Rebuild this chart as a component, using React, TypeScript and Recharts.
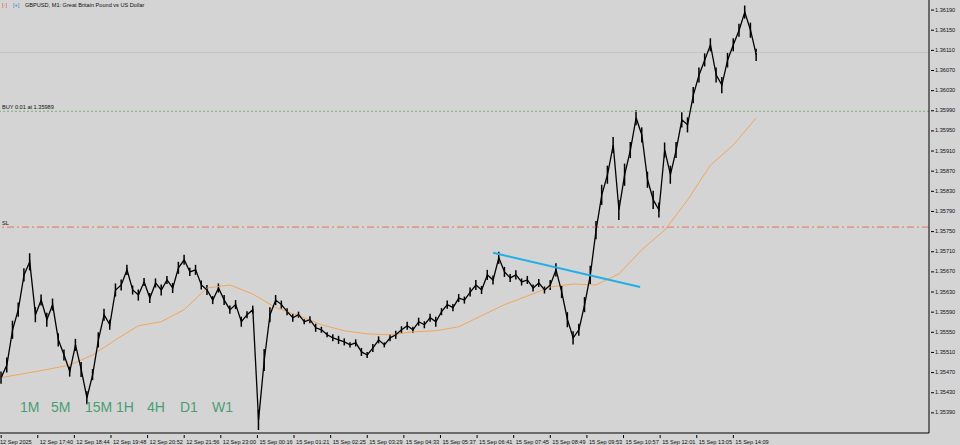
import React from 'react';
import { ComposedChart, Line, Bar, XAxis, YAxis, ReferenceLine } from 'recharts';

// M1 GBPUSD — one close sampled every 10 bars, MA every 40 bars
const timeLabels = [
  '12 Sep 2025', '12 Sep 17:40', '12 Sep 18:44', '12 Sep 19:48', '12 Sep 20:52', '12 Sep 21:56',
  '12 Sep 23:00', '15 Sep 00:16', '15 Sep 01:21', '15 Sep 02:25', '15 Sep 03:29', '15 Sep 04:33',
  '15 Sep 05:37', '15 Sep 06:41', '15 Sep 07:45', '15 Sep 08:49', '15 Sep 09:53', '15 Sep 10:57',
  '15 Sep 12:01', '15 Sep 13:05', '15 Sep 14:09',
];

const priceTicks = [
  1.3539, 1.3543, 1.3547, 1.3551, 1.3555, 1.3559, 1.3563, 1.3567, 1.3571, 1.3575, 1.3579,
  1.3583, 1.3587, 1.3591, 1.3595, 1.3599, 1.3603, 1.3607, 1.3611, 1.3615, 1.3619,
];

const closes = [
  1.35460, 1.35485, 1.35555, 1.35595, 1.35664, 1.35690, 1.35585, 1.35614, 1.35575, 1.35605,
  1.35535, 1.35505, 1.35472, 1.35525, 1.35476, 1.35420, 1.35466, 1.35535, 1.35585, 1.35565,
  1.35634, 1.35644, 1.35674, 1.35634, 1.35624, 1.35650, 1.35618, 1.35648, 1.35634, 1.35654,
  1.35638, 1.35678, 1.35694, 1.35670, 1.35674, 1.35644, 1.35634, 1.35614, 1.35638, 1.35614,
  1.35595, 1.35605, 1.35571, 1.35585, 1.35595, 1.35376, 1.35495, 1.35585, 1.35614, 1.35605,
  1.35591, 1.35579, 1.35585, 1.35571, 1.35575, 1.35559, 1.35555, 1.35545, 1.35539, 1.35535,
  1.35531, 1.35525, 1.35529, 1.35511, 1.35505, 1.35519, 1.35535, 1.35525, 1.35539, 1.35545,
  1.35555, 1.35563, 1.35555, 1.35571, 1.35565, 1.35579, 1.35571, 1.35591, 1.35605, 1.35599,
  1.35618, 1.35614, 1.35630, 1.35644, 1.35634, 1.35664, 1.35654, 1.35698, 1.35670, 1.35658,
  1.35664, 1.35650, 1.35654, 1.35638, 1.35648, 1.35634, 1.35644, 1.35674, 1.35630, 1.35575,
  1.35539, 1.35555, 1.35605, 1.35664, 1.35753, 1.35823, 1.35863, 1.35922, 1.35793, 1.35863,
  1.35912, 1.35976, 1.35942, 1.35853, 1.35813, 1.35793, 1.35912, 1.35863, 1.35912, 1.35972,
  1.35962, 1.36021, 1.36061, 1.36091, 1.36121, 1.36061, 1.36041, 1.36091, 1.36121, 1.36150,
  1.36186, 1.36150, 1.36101,
];

// high-low span of the bars around each sample
const spans = [
  0.00024, 0.00030, 0.00036, 0.00028, 0.00026, 0.00034, 0.00030, 0.00022, 0.00028, 0.00024,
  0.00026, 0.00022, 0.00020, 0.00024, 0.00030, 0.00026, 0.00022, 0.00030, 0.00024, 0.00020,
  0.00026, 0.00022, 0.00020, 0.00018, 0.00022, 0.00016, 0.00020, 0.00018, 0.00022, 0.00016,
  0.00020, 0.00024, 0.00020, 0.00016, 0.00020, 0.00018, 0.00020, 0.00016, 0.00018, 0.00020,
  0.00016, 0.00018, 0.00020, 0.00014, 0.00016, 0.00040, 0.00044, 0.00030, 0.00020, 0.00016,
  0.00014, 0.00016, 0.00012, 0.00010, 0.00014, 0.00016, 0.00012, 0.00010, 0.00014, 0.00016,
  0.00014, 0.00010, 0.00014, 0.00016, 0.00012, 0.00016, 0.00014, 0.00010, 0.00014, 0.00016,
  0.00014, 0.00016, 0.00012, 0.00016, 0.00014, 0.00016, 0.00020, 0.00014, 0.00016, 0.00014,
  0.00016, 0.00014, 0.00018, 0.00020, 0.00016, 0.00020, 0.00018, 0.00024, 0.00020, 0.00016,
  0.00018, 0.00014, 0.00016, 0.00014, 0.00016, 0.00014, 0.00020, 0.00026, 0.00024, 0.00030,
  0.00026, 0.00024, 0.00030, 0.00036, 0.00036, 0.00040, 0.00036, 0.00032, 0.00040, 0.00044,
  0.00032, 0.00030, 0.00030, 0.00032, 0.00036, 0.00030, 0.00030, 0.00036, 0.00032, 0.00030,
  0.00030, 0.00032, 0.00030, 0.00026, 0.00026, 0.00030, 0.00032, 0.00030, 0.00026, 0.00026,
  0.00026, 0.00030, 0.00024,
];

const maValues = [
  1.35460, 1.35468, 1.35476, 1.35485, 1.35505, 1.35535, 1.35563, 1.35571, 1.35595, 1.35638,
  1.35644, 1.35626, 1.35599, 1.35583, 1.35565, 1.35553, 1.35547, 1.35545, 1.35551, 1.35553,
  1.35561, 1.35583, 1.35605, 1.35622, 1.35640, 1.35646, 1.35644, 1.35666, 1.35714, 1.35753,
  1.35813, 1.35882, 1.35922, 1.35976,
];

const trendStart = { t: 860, price: 1.35708 };
const trendEnd = { t: 1117, price: 1.35640 };
const buyPrice = 1.35989;
const slPrice = 1.35759;
const bidPrice = 1.36106;
const timeframes = ['1M', '5M', '15M', '1H', '4H', 'D1', 'W1'];
const timeframeLeft = [20, 51, 85, 116, 147, 180, 212];

const BAR_STEP = 10;
const MA_STEP = 40;
const LABEL_STEP = 64;

const rows = closes.map((c, i) => {
  const t = i * BAR_STEP;
  return {
    t,
    close: c,
    range: [c - spans[i] / 2, c + spans[i] / 2],
    ma: t % MA_STEP === 0 ? maValues[t / MA_STEP] : undefined,
  };
});

const FONT = '"Liberation Sans", Arial, sans-serif';

const TimeTick = (props: any) => {
  const { x, y, payload } = props;
  const idx = Math.round(payload.value / LABEL_STEP);
  return (
    <g>
      <line x1={x} y1={y} x2={x} y2={y + 3} stroke="#000" strokeWidth={1} />
      <text x={idx === 0 ? 0 : x + 2} y={y + 7.5} fontSize={5.6} fontFamily={FONT} fill="#111" dominantBaseline="middle">
        {timeLabels[idx]}
      </text>
    </g>
  );
};

const PriceTick = (props: any) => {
  const { x, y, payload } = props;
  return (
    <g>
      <line x1={x} y1={y} x2={x + 3} y2={y} stroke="#000" strokeWidth={1} />
      <text x={x + 4} y={y} fontSize={5.6} fontFamily={FONT} fill="#111" dominantBaseline="middle">
        {payload.value.toFixed(5)}
      </text>
    </g>
  );
};

const lineLabel = (text: string) => (props: any) => {
  const { viewBox } = props;
  return (
    <text x={2} y={viewBox.y - 2.5} fontSize={5.6} fontFamily={FONT} fill="#111">
      {text}
    </text>
  );
};

export default function App() {
  return (
    <div style={{ position: 'absolute', left: 0, top: 0, width: 960, height: 445, background: '#d4d4d4', overflow: 'hidden' }}>
      <ComposedChart width={960} height={445} data={rows} margin={{ top: 0, right: 0, bottom: 0, left: 0 }}>
        <XAxis
          dataKey="t"
          type="number"
          domain={[-2, 1622]}
          allowDataOverflow
          ticks={timeLabels.map((_, i) => i * LABEL_STEP)}
          tick={<TimeTick />}
          tickLine={false}
          tickSize={0}
          height={12}
          axisLine={{ stroke: '#000' }}
          interval={0}
        />
        <YAxis
          orientation="right"
          type="number"
          domain={[1.3535, 1.3621]}
          allowDataOverflow
          ticks={priceTicks}
          tick={<PriceTick />}
          tickLine={false}
          tickSize={0}
          width={31}
          axisLine={{ stroke: '#000' }}
          interval={0}
        />
        <ReferenceLine y={bidPrice} stroke="#c4c4c4" strokeWidth={1} />
        <ReferenceLine y={buyPrice} stroke="#72b072" strokeDasharray="2 2" label={lineLabel(`BUY 0.01 at ${buyPrice.toFixed(5)}`)} />
        <ReferenceLine y={slPrice} stroke="#e8745a" strokeDasharray="7 3 2 3" label={lineLabel('SL')} />
        <Line dataKey="ma" stroke="#f2a65a" strokeWidth={1} dot={false} activeDot={false} connectNulls isAnimationActive={false} />
        <Bar dataKey="range" fill="#000" barSize={1.5} isAnimationActive={false} />
        <Line dataKey="close" stroke="#000" strokeWidth={1.3} dot={false} activeDot={false} isAnimationActive={false} />
        <ReferenceLine
          segment={[{ x: trendStart.t, y: trendStart.price }, { x: trendEnd.t, y: trendEnd.price }]}
          stroke="#22aee6"
          strokeWidth={2}
        />
      </ComposedChart>
      <div style={{ position: 'absolute', left: 2, top: 2, fontFamily: FONT, fontSize: 5.6, color: '#111', display: 'flex', alignItems: 'center', whiteSpace: 'nowrap' }}>
        <span style={{ color: '#d9534f', width: 11 }}>[-]</span>
        <span style={{ color: '#3a7bd5', width: 12 }}>[+]</span>
        <span>GBPUSD, M1:  Great Britain Pound vs US Dollar</span>
      </div>
      {timeframes.map((tf, i) => (
        <span
          key={tf}
          style={{ position: 'absolute', left: timeframeLeft[i], top: 399, fontFamily: FONT, fontSize: 14, color: '#4b9e74' }}
        >
          {tf}
        </span>
      ))}
    </div>
  );
}
